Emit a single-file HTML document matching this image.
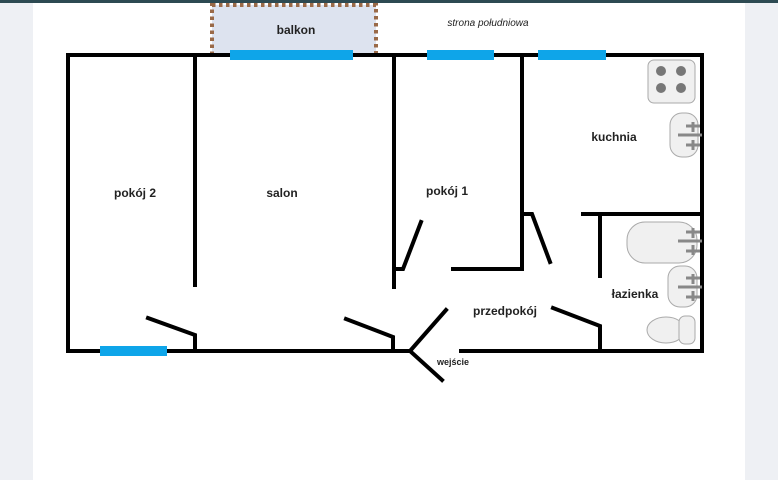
<!DOCTYPE html>
<html><head><meta charset="utf-8"><style>
html,body{margin:0;padding:0;width:778px;height:480px;overflow:hidden;background:#f0f2f6}
svg{display:block}
text{font-family:"Liberation Sans",sans-serif;font-weight:bold;font-size:12px;fill:#222}
</style></head><body>
<svg width="778" height="480" viewBox="0 0 778 480" xmlns="http://www.w3.org/2000/svg">
<rect x="0" y="0" width="778" height="480" fill="#eef0f4"/>
<rect x="33" y="0" width="712" height="480" fill="#ffffff"/>
<rect x="0" y="0" width="778" height="3" fill="#2d4a52"/>
<!-- balcony -->
<rect x="212" y="5" width="164" height="50" fill="#dde3ef" stroke="#9a6a48" stroke-width="4" stroke-dasharray="3.5,3.5"/>
<text x="296" y="34" text-anchor="middle">balkon</text>
<text x="488" y="26" text-anchor="middle" style="font-weight:normal;font-style:italic;font-size:10px">strona południowa</text>
<g stroke="#000" stroke-width="4" fill="none" stroke-linecap="square">
<polyline points="410,351 68,351 68,55 702,55 702,351 461,351"/>
<line x1="195" y1="55" x2="195" y2="285"/>
<polyline points="148,318 195,335 195,351"/>
<line x1="394" y1="55" x2="394" y2="287"/>
<polyline points="346,319 393,337 393,351"/>
<polyline points="394,269 403,269 421,222"/>
<polyline points="453,269 522,269 522,55"/>
<polyline points="522,214 532,214 550,262"/>
<line x1="583" y1="214" x2="702" y2="214"/>
<line x1="600" y1="214" x2="600" y2="276"/>
<polyline points="553,308 600,326 600,351"/>
<polyline points="446,310 410,351 442,380"/>
</g>
<g fill="#0ea5e9">
<rect x="100" y="346" width="67" height="10"/>
<rect x="230" y="50" width="123" height="10"/>
<rect x="427" y="50" width="67" height="10"/>
<rect x="538" y="50" width="68" height="10"/>
</g>
<g fill="#f0f0f0" stroke="#aaa" stroke-width="1">
<rect x="648" y="60" width="47" height="43" rx="6"/>
<rect x="670" y="113" width="28" height="44" rx="12"/>
<rect x="627" y="222" width="70" height="41" rx="18"/>
<rect x="668" y="266" width="29" height="41" rx="12"/>
<ellipse cx="666" cy="330" rx="19" ry="13"/>
<rect x="679" y="316" width="16" height="28" rx="6"/>
</g>
<g fill="#777">
<circle cx="661" cy="71" r="5"/><circle cx="681" cy="71" r="5"/>
<circle cx="661" cy="88" r="5"/><circle cx="681" cy="88" r="5"/>
</g>
<g stroke="#888" stroke-width="3">
<line x1="678" y1="135" x2="702" y2="135"/><line x1="693" y1="122" x2="693" y2="132"/><line x1="686" y1="126" x2="700" y2="126"/><line x1="693" y1="140" x2="693" y2="150"/><line x1="686" y1="145" x2="700" y2="145"/>
<line x1="678" y1="241" x2="702" y2="241"/><line x1="693" y1="228" x2="693" y2="238"/><line x1="686" y1="232" x2="700" y2="232"/><line x1="693" y1="245" x2="693" y2="255"/><line x1="686" y1="251" x2="700" y2="251"/>
<line x1="678" y1="287" x2="702" y2="287"/><line x1="693" y1="274" x2="693" y2="284"/><line x1="686" y1="278" x2="700" y2="278"/><line x1="693" y1="291" x2="693" y2="301"/><line x1="686" y1="297" x2="700" y2="297"/>
</g>
<text x="135" y="197" text-anchor="middle">pokój 2</text>
<text x="282" y="197" text-anchor="middle">salon</text>
<text x="447" y="195" text-anchor="middle">pokój 1</text>
<text x="614" y="141" text-anchor="middle">kuchnia</text>
<text x="635" y="298" text-anchor="middle">łazienka</text>
<text x="505" y="315" text-anchor="middle">przedpokój</text>
<text x="453" y="365" text-anchor="middle" style="font-size:9px">wejście</text>
</svg>
</body></html>
